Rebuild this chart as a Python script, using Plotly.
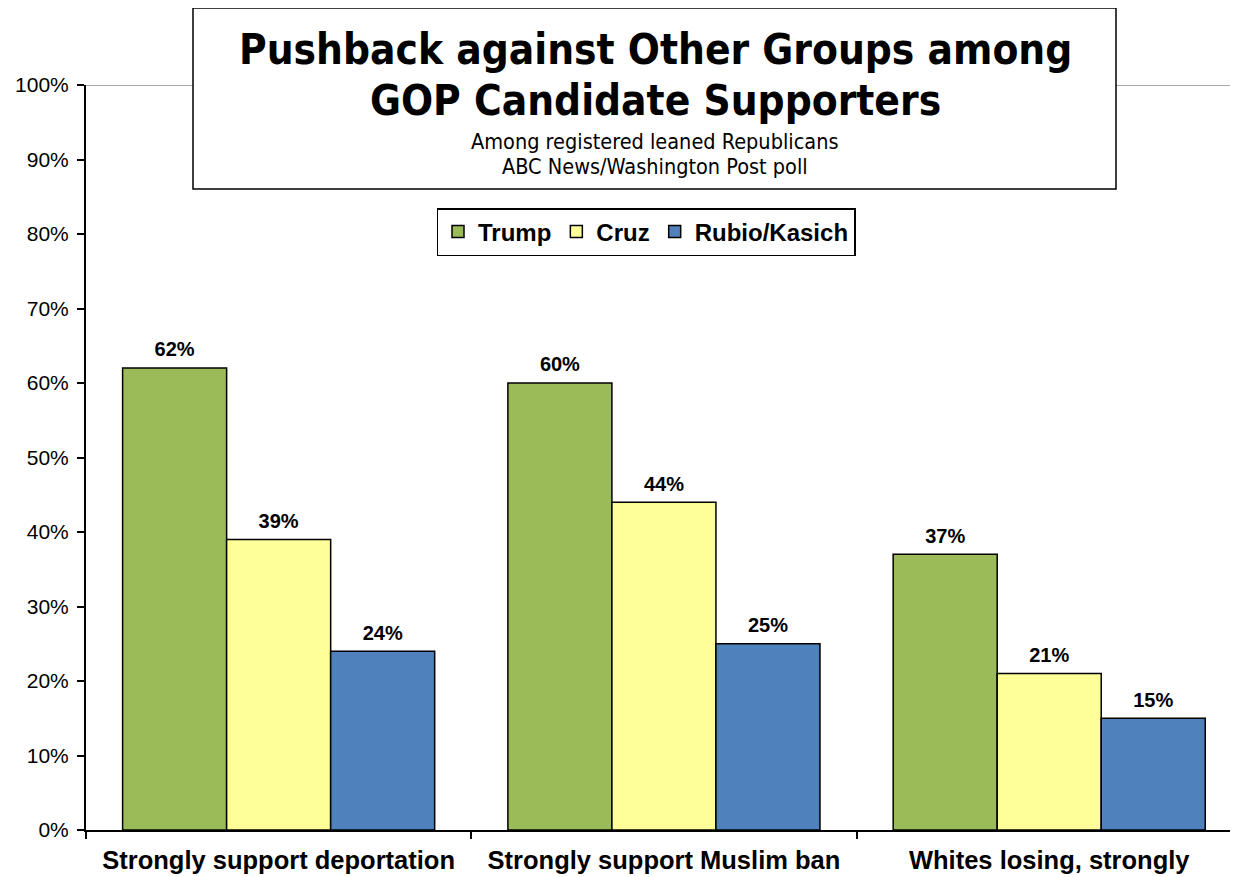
import plotly.graph_objects as go

categories = ["Strongly support deportation", "Strongly support Muslim ban", "Whites losing, strongly"]
series_names = ["Trump", "Cruz", "Rubio/Kasich"]
trump = [62, 60, 37]
cruz = [39, 44, 21]
rubio_kasich = [24, 25, 15]
colors = ["#9BBB59", "#FFFF99", "#4F81BD"]

title_lines = ["Pushback against Other Groups among", "GOP Candidate Supporters"]
subtitle_lines = ["Among registered leaned Republicans", "ABC News/Washington Post poll"]

OFF = 8  # page body margin
PAGE_W, PAGE_H = 1238, 877
W, H = PAGE_W - OFF, PAGE_H - OFF
PL, PR, PT, PB = 86, 1238, 85, 830  # plot area in page pixels
L, R, T, B = PL - OFF, PAGE_W - PR, PT - OFF, PAGE_H - PB

def px_x(x):
    return (x - PL) / (PR - PL)

def px_y(y):
    return (PB - y) / (PB - PT)

fig = go.Figure()
all_series = [trump, cruz, rubio_kasich]
for name, vals, col in zip(series_names, all_series, colors):
    fig.add_trace(go.Bar(
        x=categories, y=vals, name=name,
        marker=dict(color=col, line=dict(color="black", width=1.5)),
        hoverinfo="x+y",
    ))
# value labels, grouped the same way as the bars
for name, vals in zip(series_names, all_series):
    fig.add_trace(go.Scatter(
        x=categories, y=vals, mode="text+markers", showlegend=False,
        marker=dict(size=9, opacity=0),
        text=[f"{v}%" for v in vals], textposition="top center",
        textfont=dict(family="Liberation Sans, Arial, sans-serif", size=20, color="black", weight="bold"),
        cliponaxis=False, hoverinfo="skip",
    ))

shapes = [
    dict(type="line", xref="paper", yref="y", x0=0, x1=1, y0=100, y1=100,
         line=dict(color="#8C8C8C", width=1.5), layer="below"),
    dict(type="rect", xref="paper", yref="paper", x0=px_x(193), x1=px_x(1116), y0=px_y(189), y1=px_y(8),
         fillcolor="white", line=dict(color="black", width=1.5), layer="above"),
]

TFONT = "Liberation Sans Narrow, Arial Narrow, DejaVu Sans Condensed, sans-serif"
annotations = [
    dict(xref="paper", yref="paper", x=px_x(655), y=px_y(50), text=title_lines[0], showarrow=False,
         font=dict(family=TFONT, size=42, color="black", weight="bold"), xanchor="center", yanchor="middle"),
    dict(xref="paper", yref="paper", x=px_x(655), y=px_y(101), text=title_lines[1], showarrow=False,
         font=dict(family=TFONT, size=42, color="black", weight="bold"), xanchor="center", yanchor="middle"),
    dict(xref="paper", yref="paper", x=px_x(655), y=px_y(141), text=subtitle_lines[0], showarrow=False,
         font=dict(family=TFONT, size=21.5, color="black"), xanchor="center", yanchor="middle"),
    dict(xref="paper", yref="paper", x=px_x(655), y=px_y(166), text=subtitle_lines[1], showarrow=False,
         font=dict(family=TFONT, size=21.5, color="black"), xanchor="center", yanchor="middle"),
]

fig.update_layout(
    width=W, height=H,
    margin=dict(l=L, r=R, t=T, b=B),
    paper_bgcolor="white", plot_bgcolor="white",
    barmode="group", bargap=0.19, bargroupgap=0,
    scattermode="group", scattergap=0.19,
    font=dict(family="Liberation Sans, Arial, sans-serif", color="black"),
    shapes=shapes, annotations=annotations,
    legend=dict(
        orientation="h", xref="paper", yref="paper",
        x=px_x(646), y=px_y(232), xanchor="center", yanchor="middle",
        bordercolor="black", borderwidth=1.5, bgcolor="white",
        font=dict(family="Liberation Sans, Arial, sans-serif", size=24, color="black", weight="bold"),
        itemwidth=30, tracegroupgap=0,
    ),
    showlegend=True,
)

fig.update_xaxes(
    type="category", range=[-0.5, 2.49],
    showline=True, linecolor="black", linewidth=2,
    ticks="outside", tickson="boundaries", ticklen=7, tickwidth=1.5, tickcolor="black",
    tickfont=dict(family="Liberation Sans, Arial, sans-serif", size=25.5, color="black", weight="bold"),
    ticklabelstandoff=6,
    showgrid=False,
)
fig.update_yaxes(
    range=[0, 100], dtick=10, ticksuffix="%",
    showline=True, linecolor="black", linewidth=2,
    ticks="outside", ticklen=7, tickwidth=1.5, tickcolor="black",
    tickfont=dict(family="Liberation Sans, Arial, sans-serif", size=21, color="black"),
    ticklabelstandoff=4,
    showgrid=False, zeroline=False,
)

fig.write_html("out.html")
